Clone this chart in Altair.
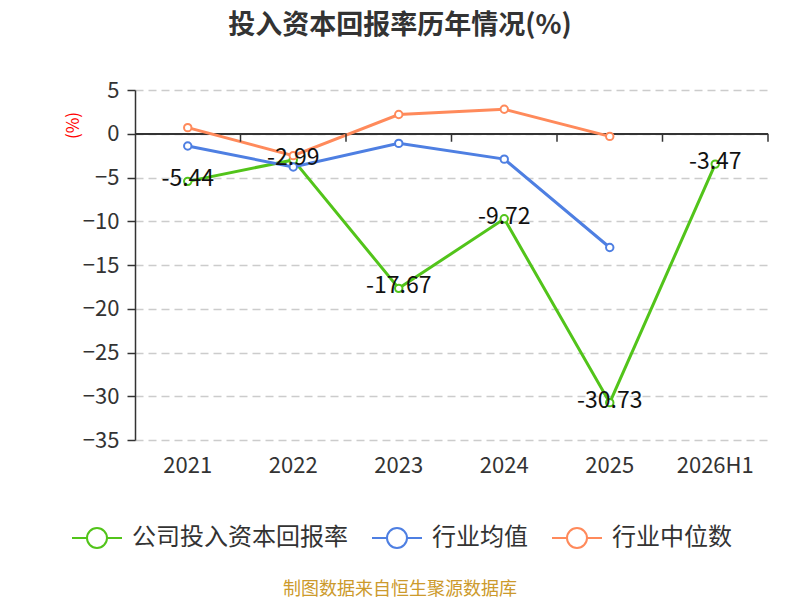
import altair as alt
import pandas as pd

years = ["2021", "2022", "2023", "2024", "2025", "2026H1"]
company = [-5.44, -2.99, -17.67, -9.72, -30.73, -3.47]
ind_mean = [-1.4, -3.8, -1.1, -2.9, -13.0, None]
ind_median = [0.7, -2.5, 2.2, 2.8, -0.3, None]
series_names = ["公司投入资本回报率", "行业均值", "行业中位数"]
colors = ["#52c41a", "#4e7fe2", "#ff8a5b"]
y_ticks = [5, 0, -5, -10, -15, -20, -25, -30, -35]
title_text = "投入资本回报率历年情况(%)"
source_text = "制图数据来自恒生聚源数据库"

FONT = "Noto Sans CJK SC"

rows = []
for name, vals in zip(series_names, [company, ind_mean, ind_median]):
    for yr, v in zip(years, vals):
        if v is not None:
            rows.append({"year": yr, "series": name, "value": v})
df = pd.DataFrame(rows)
label_df = pd.DataFrame({"year": years, "value": company,
                         "label": [f"{v:.2f}" for v in company]})
year_df = pd.DataFrame({"year": years})
src_df = pd.DataFrame({"t": [source_text]})
title_df = pd.DataFrame({"t": [title_text]})

x_scale = alt.Scale(domain=years, type="band", paddingInner=0, paddingOuter=0)
y_scale = alt.Scale(domain=[-35, 5], nice=False, zero=False)
color_scale = alt.Scale(domain=series_names, range=colors)

y_axis = alt.Axis(
    values=y_ticks, title="(%)", titleColor="#ff0000", titleFontSize=17,
    titleFont=FONT, titleFontWeight="normal", titleX=-53, titleY=35,
    domainColor="#333333", domainWidth=1.5, tickColor="#333333", tickSize=8,
    tickWidth=1.5, labelFontSize=22, labelColor="#333333", labelFont=FONT,
    labelPadding=8, grid=True, gridColor="#cccccc", gridDash=[8, 5], gridWidth=1.3,
)
x_axis = alt.Axis(
    title=None, domain=False, ticks=False, grid=False, labelAngle=0,
    labelFontSize=22, labelColor="#333333", labelFont=FONT, labelPadding=15,
)

legend = alt.Legend(
    title=None, orient="none", legendX=-64, legendY=422, direction="horizontal",
    symbolType="M-1,0H-0.4M0.4,0A0.4,0.4 0 1,1 -0.4,0A0.4,0.4 0 1,1 0.4,0M0.4,0H1",
    symbolSize=2500, symbolStrokeWidth=2, symbolFillColor="#ffffff",
    labelFontSize=24, labelFont=FONT, labelColor="#333333", labelOffset=9,
    labelLimit=0, columnPadding=20, padding=0,
)

X = lambda bp: alt.X("year:N", scale=x_scale, sort=years, bandPosition=bp, axis=x_axis)
Y = alt.Y("value:Q", scale=y_scale, axis=y_axis)
Y0 = alt.YDatum(0, scale=y_scale, axis=y_axis)
C = alt.Color("series:N", scale=color_scale, sort=series_names, legend=legend)

zero_line = alt.Chart(year_df).mark_rule(color="#333333", strokeWidth=1.5).encode(
    y=Y0,
)

zero_ticks = alt.Chart(year_df).mark_tick(
    orient="vertical", color="#333333", size=8, thickness=1.5, yOffset=4, opacity=1,
).encode(x=X(1), y=Y0)

lines = alt.Chart(df).mark_line(strokeWidth=3).encode(x=X(0.5), y=Y, color=C)

points = alt.Chart(df).mark_point(
    shape="circle", filled=False, fill="#ffffff", fillOpacity=1, size=55,
    strokeWidth=2, opacity=1,
).encode(x=X(0.5), y=Y, color=C)

labels = alt.Chart(label_df).mark_text(
    fontSize=23, font=FONT, color="#111111", baseline="middle", dy=-2,
).encode(x=X(0.5), y=Y, text="label:N")

source = alt.Chart(src_df).mark_text(
    fontSize=18, font=FONT, color="#cc9a2c", baseline="middle", align="center",
).encode(x=alt.value(265), y=alt.value(500), text="t:N")

title = alt.Chart(title_df).mark_text(
    fontSize=27, font=FONT, fontWeight="bold", color="#333333",
    baseline="middle", align="center",
).encode(x=alt.value(265), y=alt.value(-64), text="t:N")

chart = alt.layer(zero_line, lines, zero_ticks, points, labels, source, title).properties(
    width=633, height=350,
    autosize=alt.AutoSizeParams(type="none"),
    padding={"left": 127, "top": 82, "right": 16, "bottom": 160},
    background="#ffffff",
).configure_view(stroke=None)

chart.save("out.html", embed_options={"renderer": "svg", "actions": False})
